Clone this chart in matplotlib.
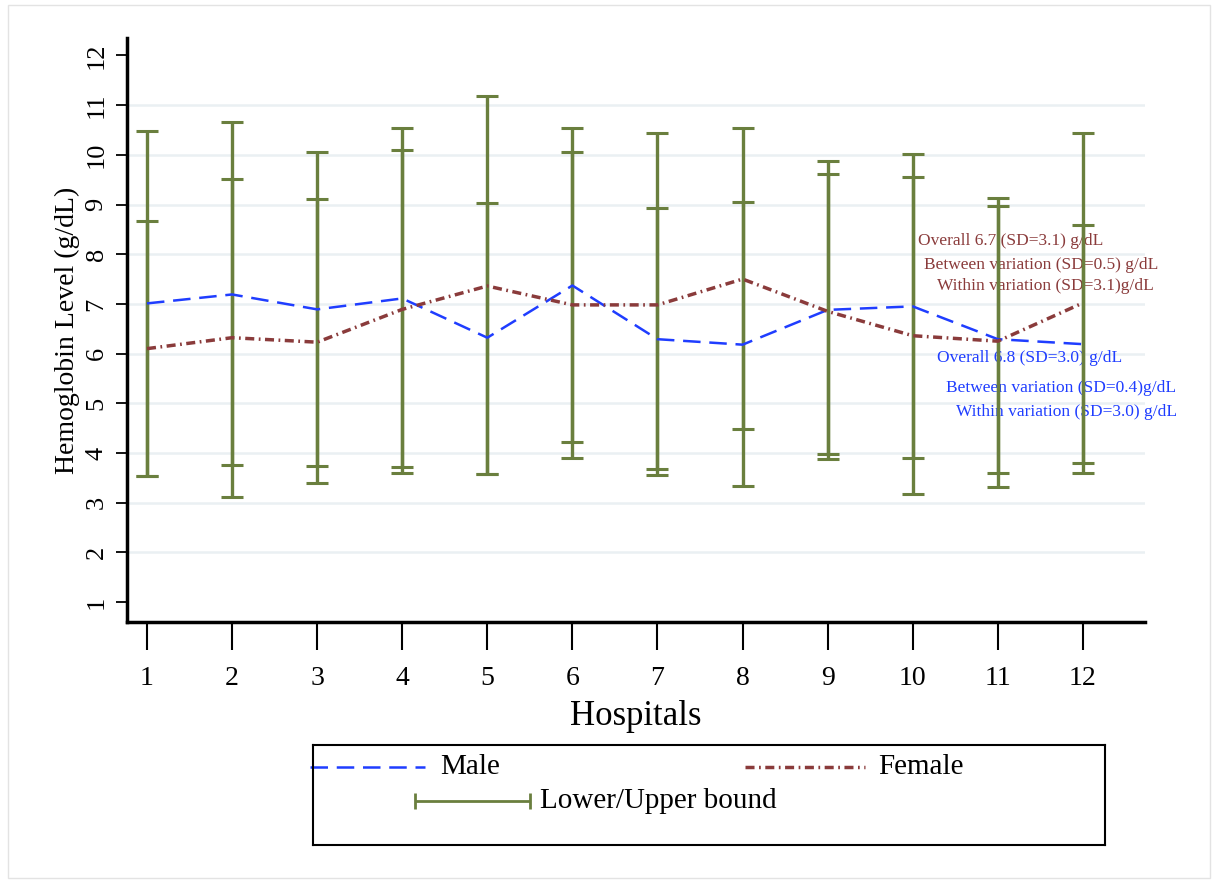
import numpy as np
import matplotlib.pyplot as plt
from matplotlib.patches import Rectangle
from matplotlib.lines import Line2D

plt.rcParams['font.family'] = ['Liberation Serif', 'DejaVu Serif']

# hospital means and bounds
hospitals = np.arange(1, 13)
male = [7.01, 7.19, 6.89, 7.11, 6.32, 7.37, 6.29, 6.18, 6.88, 6.95, 6.29, 6.19]
female = [6.10, 6.32, 6.23, 6.89, 7.36, 6.98, 6.98, 7.50, 6.85, 6.36, 6.25, 7.02]
male_lo = [3.54, 3.76, 3.74, 3.72, 3.57, 4.22, 3.67, 3.33, 3.88, 3.90, 3.59, 3.80]
male_hi = [10.48, 10.65, 10.06, 10.53, 9.04, 10.53, 8.92, 9.06, 9.88, 10.01, 8.97, 8.59]
female_lo = [3.54, 3.11, 3.39, 3.60, 3.57, 3.89, 3.55, 4.49, 3.98, 3.17, 3.31, 3.60]
female_hi = [8.66, 9.52, 9.12, 10.09, 11.19, 10.06, 10.43, 10.53, 9.61, 9.55, 9.13, 10.43]

female_notes = ["Overall 6.7 (SD=3.1) g/dL",
                "Between variation (SD=0.5) g/dL",
                "Within variation (SD=3.1)g/dL"]
male_notes = ["Overall 6.8 (SD=3.0) g/dL",
              "Between variation (SD=0.4)g/dL",
              "Within variation (SD=3.0) g/dL"]

green = '#6a7f3e'
blue = '#1f3dff'
brown = '#8a3b3b'

fig = plt.figure(figsize=(12.16, 8.83), dpi=100)
fig.patches.append(Rectangle((8/1216, 5/883), 1202/1216, 873/883, transform=fig.transFigure,
                             fill=False, edgecolor='#e3e3e3', linewidth=1))

ax = fig.add_axes([127/1216, 1-622/883, (1145-127)/1216, (622-38)/883])

for y in range(2, 12):
    ax.axhline(y, color='#eaf0f3', linewidth=1.8, zorder=0)

# notes sit under the bars
for txt, xx, yy in zip(female_notes, [10.06, 10.13, 10.29], [8.26, 7.78, 7.36]):
    ax.text(xx, yy, txt, color=brown, fontsize=12.5, ha='left', va='center', zorder=1)
for txt, xx, yy in zip(male_notes, [10.28, 10.39, 10.51], [5.91, 5.31, 4.82]):
    ax.text(xx, yy, txt, color=blue, fontsize=12.5, ha='left', va='center', zorder=1)

def bounds(lo, hi):
    lo = np.array(lo); hi = np.array(hi)
    mid = (lo + hi) / 2
    return mid, [mid - lo, hi - mid]

for lo, hi in [(male_lo, male_hi), (female_lo, female_hi)]:
    mid, err = bounds(lo, hi)
    ax.errorbar(hospitals, mid, yerr=err, fmt='none', ecolor=green, elinewidth=2.4,
                capsize=8, capthick=2.2, zorder=2)

ax.plot(hospitals, male, color=blue, linewidth=1.8, dashes=(7, 3.5), zorder=3)
ax.plot(hospitals, female, color=brown, linewidth=2.5, dashes=(2.6, 1.3, 0.5, 1.3), zorder=3)

ax.set_xlim(0.765, 12.73)
ax.set_ylim(0.6, 12.35)
ax.set_xticks(hospitals)
ax.set_yticks(range(1, 13))
ax.tick_params(axis='x', direction='out', length=20, width=1.5, labelsize=20, pad=12)
ax.tick_params(axis='y', direction='out', length=8, width=1.3, labelsize=19,
               labelrotation=90, pad=6)
for lab in ax.get_yticklabels():
    lab.set_va('center')
for s in ['top', 'right']:
    ax.spines[s].set_visible(False)
for s in ['left', 'bottom']:
    ax.spines[s].set_linewidth(2.5)
ax.set_xlabel('Hospitals', fontsize=25, labelpad=6)
ax.set_ylabel('Hemoglobin Level (g/dL)', fontsize=20, labelpad=4)

# legend box drawn by hand to match the original layout
lax = fig.add_axes([313/1216, 1-845/883, (1105-313)/1216, (845-745)/883])
lax.set_xlim(313, 1105)
lax.set_ylim(845, 745)
lax.set_xticks([]); lax.set_yticks([])
for s in lax.spines.values():
    s.set_linewidth(1.5)
lax.add_line(Line2D([310, 425], [767, 767], color=blue, linewidth=1.8, dashes=(7, 3.5), clip_on=False))
lax.text(440, 767, 'Male', fontsize=21, va='center')
lax.add_line(Line2D([745, 865], [767, 767], color=brown, linewidth=2.5, dashes=(2.6, 1.3, 0.5, 1.3)))
lax.text(878, 767, 'Female', fontsize=21, va='center')
lax.errorbar([472.5], [801], xerr=[57.5], fmt='none', ecolor=green, elinewidth=2, capsize=6, capthick=2)
lax.text(540, 801, 'Lower/Upper bound', fontsize=21, va='center')

fig.savefig('out.png', dpi=100)
